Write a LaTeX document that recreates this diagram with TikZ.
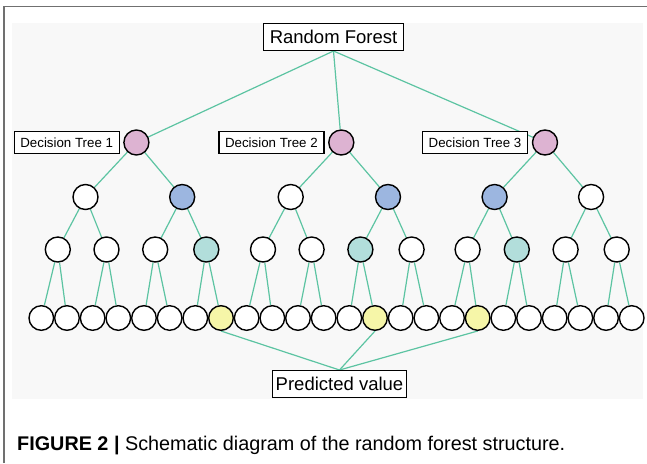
\documentclass[tikz,border=0pt]{standalone}
\usepackage{fontspec}
\setmainfont{Liberation Sans}
\definecolor{pinkc}{HTML}{DDB3D2}
\definecolor{bluec}{HTML}{9CB6E0}
\definecolor{tealc}{HTML}{B2DEDB}
\definecolor{yellowc}{HTML}{F6F6A8}
\definecolor{edgec}{HTML}{5CC4A2}
\definecolor{panelc}{HTML}{F8F8F8}
\definecolor{framec}{HTML}{707070}
\pgfdeclarelayer{back}
\pgfdeclarelayer{edges}
\pgfsetlayers{back,edges,main}
\tikzset{
  nd/.style={circle, draw=black, line width=1.4pt, minimum size=25pt, inner sep=0pt, fill=white},
  leaf/.style={nd, minimum size=24.6pt},
  edge/.style={draw=edgec, line width=1.2pt},
  bigbox/.style={draw=black, line width=1.3pt, fill=white, inner sep=0pt, minimum width=133.7pt, minimum height=26.7pt, font=\fontsize{18.5}{20}\selectfont},
  dtbox/.style={draw=black, line width=1.2pt, fill=white, inner sep=0pt, minimum width=105pt, minimum height=22pt, font=\fontsize{13.3}{15}\selectfont},
  captext/.style={anchor=base west, inner sep=0pt, font=\fontsize{19.8}{22}\selectfont}
}
\begin{document}
\begin{tikzpicture}[x=1pt,y=-1pt]
\useasboundingbox (0,0) rectangle (647,463);
\begin{pgfonlayer}{back}
  \fill[white] (0,0) rectangle (647,463);
  \fill[panelc] (12,22.7) rectangle (643,399);
  \draw[framec, line width=1.5pt] (4,463) -- (4,6.5) -- (647,6.5);
\end{pgfonlayer}
% top and bottom boxes
\node[bigbox, minimum width=139.7pt] (rf) at (333.5,37) {Random Forest};
\node[bigbox] (pv) at (339.5,384) {Predicted value};
% decision tree labels
\node[dtbox] (d1) at (66.7,142.5) {Decision Tree 1};
\node[dtbox] (d2) at (271.4,142.5) {Decision Tree 2};
\node[dtbox] (d3) at (475,142.5) {Decision Tree 3};
% roots
\foreach \x [count=\i] in {136.4,341.3,545} \node[nd, fill=pinkc] (p\i) at (\x,142.5) {};
% level 2
\foreach \x/\c [count=\i] in {85.5/white,182.2/bluec,290.7/white,388/bluec,494.6/bluec,591.1/white}
  \node[nd, fill=\c] (a\i) at (\x,197) {};
% level 3
\foreach \x/\c [count=\i] in {57.8/white,106.5/white,155.2/white,206.3/tealc,263/white,311.6/white,360.4/tealc,411.6/white,467.6/white,516.8/tealc,565.6/white,616.7/white}
  \node[nd, fill=\c] (b\i) at (\x,249.5) {};
% leaves
\foreach \i in {0,...,23}{
  \def\f{white}
  \ifnum\i=7 \def\f{yellowc}\fi
  \ifnum\i=13 \def\f{yellowc}\fi
  \ifnum\i=17 \def\f{yellowc}\fi
  \node[leaf, fill=\f] (c\i) at ({41.3+25.67*\i},318) {};
}
% caption
\node[captext] (cap) at (17,450) {\textbf{FIGURE 2 |} Schematic diagram of the random forest structure.};
% connectors
\begin{pgfonlayer}{edges}
  \foreach \p in {1,2,3} \draw[edge] (rf.south) -- (p\p);
  \foreach \p/\a/\b in {1/1/2,2/3/4,3/5/6} {\draw[edge] (p\p) -- (a\a); \draw[edge] (p\p) -- (a\b);}
  \foreach \k in {1,...,6} {
    \pgfmathtruncatemacro\l{2*\k-1}\pgfmathtruncatemacro\r{2*\k}
    \draw[edge] (a\k) -- (b\l); \draw[edge] (a\k) -- (b\r);}
  \foreach \j in {1,...,12} {
    \pgfmathtruncatemacro\l{2*\j-2}\pgfmathtruncatemacro\r{2*\j-1}
    \draw[edge] (b\j) -- (c\l); \draw[edge] (b\j) -- (c\r);}
  \foreach \y in {7,13,17} \draw[edge] (c\y.south) -- (pv.north);
\end{pgfonlayer}
\end{tikzpicture}
\end{document}
